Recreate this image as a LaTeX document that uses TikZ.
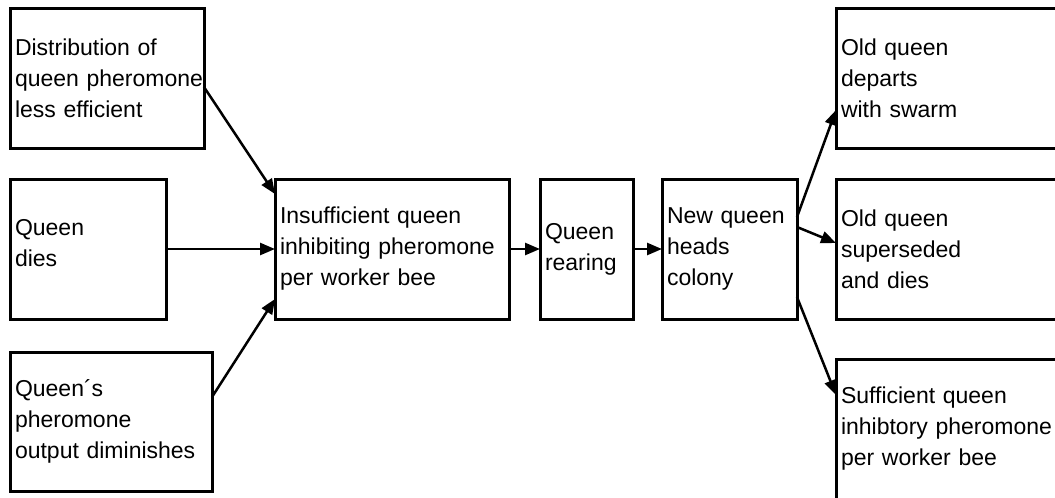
\documentclass[tikz,border=0pt]{standalone}
\usepackage{fontspec}
\setmainfont{Liberation Sans}
\usetikzlibrary{arrows.meta}

\tikzset{
  box/.style={draw, line width=3pt, anchor=north west, inner xsep=5pt,
    inner ysep=0pt, outer sep=0pt, align=left,
    font=\fontsize{23}{31}\selectfont},
  link/.style={line width=2.5pt,
    -{Triangle[length=15pt,width=12pt]}},
}

\begin{document}
\begin{tikzpicture}[x=1pt,y=-1pt]
  \useasboundingbox (0,0) rectangle (1055,498);
  \clip (0,0) rectangle (1055,498);

  % causes
  \node[box, text width=184pt, minimum height=140pt] (a) at (10,8)
    {Distribution of\\queen~pheromone\\less efficient};
  \node[box, text width=146pt, minimum height=140pt] (b) at (10,179)
    {Queen\\dies\\[-18pt]\mbox{}};
  \node[box, text width=192pt, minimum height=139pt] (c) at (10,352)
    {Queen´s\\pheromone\\output~diminishes};

  % main chain
  \node[box, text width=224pt, minimum height=140pt] (d) at (275,179)
    {Insufficient queen\\inhibiting pheromone\\per worker bee};
  \node[box, text width=83pt, minimum height=140pt] (e) at (540,179)
    {Queen\\rearing};
  \node[box, text width=125pt, minimum height=140pt] (f) at (662,179)
    {New~queen\\heads\\colony};

  % outcomes
  \node[box, text width=230pt, minimum height=140pt] (g) at (836,8)
    {Old queen\\departs\\with swarm};
  \node[box, text width=230pt, minimum height=140pt] (h) at (836,179)
    {Old queen\\superseded\\and dies};
  \node[box, text width=230pt, minimum height=140pt] (i) at (836,359)
    {Sufficient queen\\inhibtory pheromone\\per worker bee};

  % connectors
  \draw[link] ([yshift=-9pt]a.east) -- ([yshift=-15pt]d.north west);
  \draw[link] (b.east) -- (d.west);
  \draw[link] ([yshift=-45pt]c.north east) -- ([yshift=20pt]d.south west);
  \draw[link] (d.east) -- (e.west);
  \draw[link] (e.east) -- (f.west);
  \draw[link] ([yshift=-38pt]f.north east) -- ([yshift=38pt]g.south west);
  \draw[link] ([yshift=-48pt]f.north east) -- ([yshift=-64pt]h.north west);
  \draw[link] ([yshift=22pt]f.south east) -- ([yshift=-36pt]i.north west);
\end{tikzpicture}
\end{document}
